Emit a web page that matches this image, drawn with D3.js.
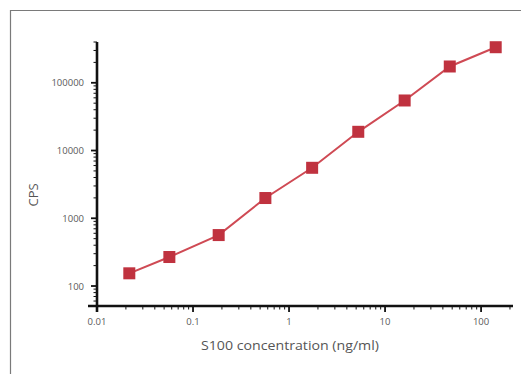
<!DOCTYPE html>
<html lang="en">
<head>
    <meta charset="UTF-8">
    <title>S100 standard curve</title>
    <script src="https://d3js.org/d3.v7.min.js"></script>
    <style>
        body { margin: 0; background: #fff; }
        svg { display: block; }
        .tick-label { font-family: "Open Sans", sans-serif; font-size: 9.5px; fill: #5a5a5a; }
        .axis-title { font-family: "Open Sans", sans-serif; font-size: 13px; fill: #555; }
    </style>
</head>
<body>
    <div id="chart"></div>
    <script>
        // data
        const concentration = [0.0217, 0.0567, 0.185, 0.567, 1.74, 5.26, 16.0, 47.2, 142];
        const cps = [154, 268, 565, 1990, 5560, 18900, 54800, 174000, 335000];
        const xTickValues = [0.01, 0.1, 1, 10, 100];
        const xTickLabels = ["0.01", "0.1", "1", "10", "100"];
        const yTickValues = [100, 1000, 10000, 100000];
        const yTickLabels = ["100", "1000", "10000", "100000"];

        const width = 521, height = 374;
        const x0 = 97, y0 = 306;

        const x = d3.scaleLog().domain([0.01, 215]).range([x0, 513]);
        const y = d3.scaleLog().domain([50.7, 400000]).range([y0, 42]);

        const svg = d3.select("#chart").append("svg")
            .attr("width", width)
            .attr("height", height);

        // frame lines (top and left only)
        svg.append("path")
            .attr("d", "M10.5," + height + "V10.5H" + width)
            .attr("fill", "none")
            .attr("stroke", "#7a7a7a")
            .attr("stroke-width", 1.2);

        // minor ticks
        const xMinor = [];
        [0.01, 0.1, 1, 10, 100].forEach(d => {
            for (let k = 2; k <= 9; k++) if (d * k <= 215) xMinor.push(d * k);
        });
        const yMinor = [];
        [10, 100, 1000, 10000, 100000].forEach(d => {
            for (let k = 2; k <= 9; k++) if (d * k >= 50.7 && d * k <= 400000) yMinor.push(d * k);
        });

        svg.append("g").selectAll("line").data(xMinor).join("line")
            .attr("x1", d => x(d)).attr("x2", d => x(d))
            .attr("y1", y0).attr("y2", y0 + 3.5)
            .attr("stroke", "#111").attr("stroke-width", 1);
        svg.append("g").selectAll("line").data(yMinor).join("line")
            .attr("y1", d => y(d)).attr("y2", d => y(d))
            .attr("x1", x0).attr("x2", x0 - 3.5)
            .attr("stroke", "#111").attr("stroke-width", 1);

        // major ticks
        svg.append("g").selectAll("line").data(xTickValues).join("line")
            .attr("x1", d => x(d)).attr("x2", d => x(d))
            .attr("y1", y0).attr("y2", y0 + 6)
            .attr("stroke", "#111").attr("stroke-width", 1.8);
        svg.append("g").selectAll("line").data(yTickValues).join("line")
            .attr("y1", d => y(d)).attr("y2", d => y(d))
            .attr("x1", x0).attr("x2", x0 - 6)
            .attr("stroke", "#111").attr("stroke-width", 1.8);

        // axis lines
        svg.append("line")
            .attr("x1", 88).attr("x2", 513)
            .attr("y1", y0).attr("y2", y0)
            .attr("stroke", "#111").attr("stroke-width", 2.6);
        svg.append("line")
            .attr("x1", x0).attr("x2", x0)
            .attr("y1", 42).attr("y2", y0 + 6)
            .attr("stroke", "#111").attr("stroke-width", 2.6);

        // tick labels
        svg.append("g").selectAll("text").data(xTickValues).join("text")
            .attr("class", "tick-label")
            .attr("x", d => x(d))
            .attr("y", y0 + 19)
            .attr("text-anchor", "middle")
            .text((d, i) => xTickLabels[i]);
        svg.append("g").selectAll("text").data(yTickValues).join("text")
            .attr("class", "tick-label")
            .attr("x", 84)
            .attr("y", d => y(d) + 3.5)
            .attr("text-anchor", "end")
            .text((d, i) => yTickLabels[i]);

        // axis titles
        svg.append("text")
            .attr("class", "axis-title")
            .attr("x", 290).attr("y", 350)
            .attr("text-anchor", "middle")
            .attr("textLength", 178)
            .attr("lengthAdjust", "spacingAndGlyphs")
            .text("S100 concentration (ng/ml)");
        svg.append("text")
            .attr("class", "axis-title")
            .attr("transform", "translate(38,195) rotate(-90)")
            .attr("text-anchor", "middle")
            .text("CPS");

        // curve
        const points = concentration.map((c, i) => ({ c, v: cps[i] }));
        const line = d3.line().x(d => x(d.c)).y(d => y(d.v));
        svg.append("path")
            .datum(points)
            .attr("d", line)
            .attr("fill", "none")
            .attr("stroke", "#cf4a54")
            .attr("stroke-width", 2);

        const size = 12;
        svg.append("g").selectAll("rect").data(points).join("rect")
            .attr("x", d => x(d.c) - size / 2)
            .attr("y", d => y(d.v) - size / 2)
            .attr("width", size)
            .attr("height", size)
            .attr("fill", "#c0323f");
    </script>
</body>
</html>
